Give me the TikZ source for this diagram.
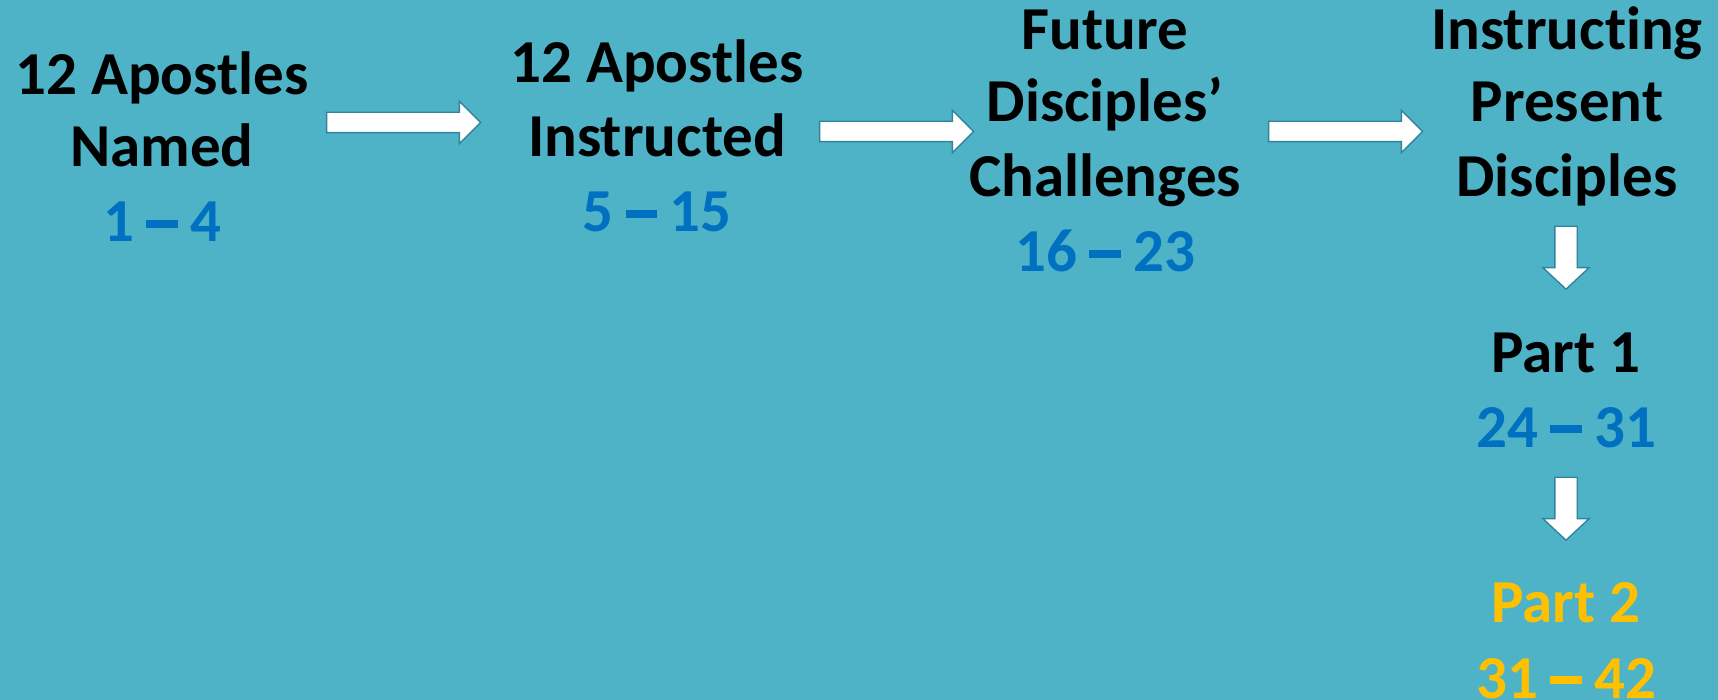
\documentclass[tikz,border=0pt]{standalone}
\usepackage{fontspec}
\setmainfont{Carlito}[Ligatures=NoCommon]
\usetikzlibrary{shapes.arrows}
\definecolor{bg}{HTML}{4FB3C8}
\definecolor{numblue}{HTML}{0070C0}
\definecolor{gold}{HTML}{FFC000}
\definecolor{arrline}{HTML}{31849B}
\newcommand{\dsh}{\hspace{0.2em}\rule[0.23em]{0.52em}{0.125em}\hspace{0.2em}}
\tikzset{
  lbl/.style={anchor=base, inner sep=0pt, font=\fontsize{61}{72}\selectfont\bfseries, text=black},
  num/.style={lbl, text=numblue},
  golden/.style={lbl, text=gold},
  harrow/.style={single arrow, draw=arrline, fill=white, line width=1.4pt, inner sep=9.5pt,
    minimum height=154pt, single arrow head extend=11pt,
    single arrow tip angle=90, single arrow head indent=0pt},
  varrow/.style={single arrow, draw=arrline, fill=white, line width=1.4pt, inner sep=10.5pt,
    minimum height=63pt, single arrow head extend=12pt,
    single arrow tip angle=94, single arrow head indent=0pt, shape border rotate=270},
}
\begin{document}
\begin{tikzpicture}[x=1pt,y=-1pt]
\fill[bg] (0,0) rectangle (1718,700);
\useasboundingbox (0,0) rectangle (1718,700);
% block 1
\node[lbl] (a1) at (162,95) {12 Apostles};
\node[lbl] (a2) at (162,167) {Named};
\node[num] (a3) at (162,242) {1\dsh 4};
% block 2
\node[lbl] (b1) at (657,83) {12 Apostles};
\node[lbl] (b2) at (657,157) {Instructed};
\node[num] (b3) at (657,232) {5\dsh 15};
% block 3
\node[lbl] (c1) at (1105,50) {Future};
\node[lbl] (c2) at (1105,122) {Disciples’};
\node[lbl] (c3) at (1105,197) {Challenges};
\node[num] (c4) at (1105,272) {16\dsh 23};
% block 4
\node[lbl] (d1) at (1567,50) {Instructing};
\node[lbl] (d2) at (1567,122) {Present};
\node[lbl] (d3) at (1567,197) {Disciples};
% part 1
\node[lbl] (e1) at (1566,372) {Part 1};
\node[num] (e2) at (1566,447) {24\dsh 31};
% part 2
\node[golden] (f1) at (1566,622) {Part 2};
\node[golden] (f2) at (1566,698) {31\dsh 42};
% arrows
\node[harrow] (ar1) at (398.5,122.5) {};
\node[harrow] (ar2) at (891.5,131.5) {};
\node[harrow] (ar3) at (1340.5,131.5) {};
\node[varrow] (ar4) at (1566,252.5) {};
\node[varrow] (ar5) at (1566,503.5) {};
\end{tikzpicture}
\end{document}
